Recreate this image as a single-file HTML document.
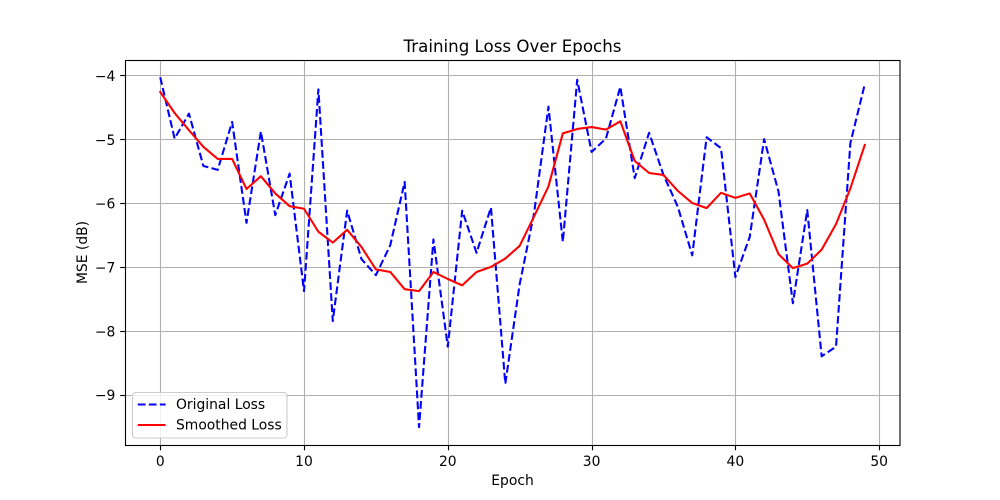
<!DOCTYPE html>
<html lang="en">
<head>
<meta charset="utf-8">
<title>Training Loss Over Epochs</title>
<style>
html,body{margin:0;padding:0;background:#fff;width:1000px;height:500px;overflow:hidden}
svg{display:block}
text{font-family:"DejaVu Sans",sans-serif;fill:#000}
</style>
</head>
<body>
<svg id="chart" width="1000" height="500" viewBox="0 0 1000 500" xmlns="http://www.w3.org/2000/svg">
  <rect x="0" y="0" width="1000" height="500" fill="#fff"/>
  <rect x="125" y="60" width="775" height="385" fill="#fff"/>
  <g id="grid"></g>
  <g id="series"></g>
  <g id="ticks"></g>
  <rect x="125.5" y="60.5" width="774.5" height="385" fill="none" stroke="#000" stroke-width="1.11"/>
  <text x="512.5" y="52" font-size="16.67" text-anchor="middle">Training Loss Over Epochs</text>
  <text x="512.5" y="485" font-size="13.89" text-anchor="middle">Epoch</text>
  <text transform="translate(87 252.5) rotate(-90)" font-size="13.89" text-anchor="middle">MSE (dB)</text>
  <g>
    <rect x="132.5" y="392.5" width="154.5" height="45.5" rx="3" ry="3" fill="#fff" fill-opacity="0.8" stroke="#ccc" stroke-width="1.11"/>
    <line x1="137.8" y1="404.5" x2="165.6" y2="404.5" stroke="#00f" stroke-width="2.08" stroke-dasharray="7.7 3.33"/>
    <text x="176" y="409" font-size="13.89">Original Loss</text>
    <line x1="137.8" y1="425" x2="165.6" y2="425" stroke="#f00" stroke-width="2.08"/>
    <text x="176" y="429.5" font-size="13.89">Smoothed Loss</text>
  </g>
</svg>
<script>
const originalLoss = [-4.02,-4.98,-4.59,-5.41,-5.47,-4.72,-6.30,-4.87,-6.18,-5.53,
  -7.37,-4.21,-7.84,-6.11,-6.87,-7.12,-6.65,-5.66,-9.50,-6.56,
  -8.24,-6.11,-6.77,-6.06,-8.82,-7.26,-6.15,-4.48,-6.60,-4.06,
  -5.19,-4.98,-4.17,-5.60,-4.89,-5.55,-6.05,-6.81,-4.96,-5.13,
  -7.15,-6.52,-4.99,-5.81,-7.56,-6.10,-8.39,-8.24,-5.05,-4.13];
const smoothedLoss = [-4.25,-4.58,-4.85,-5.11,-5.30,-5.30,-5.77,-5.57,-5.84,-6.04,
  -6.08,-6.44,-6.61,-6.41,-6.68,-7.03,-7.07,-7.34,-7.37,-7.07,
  -7.18,-7.28,-7.07,-6.99,-6.86,-6.66,-6.20,-5.73,-4.90,-4.83,
  -4.80,-4.84,-4.71,-5.33,-5.52,-5.55,-5.80,-5.99,-6.07,-5.83,
  -5.91,-5.84,-6.25,-6.79,-7.01,-6.94,-6.72,-6.32,-5.76,-5.08];
const xTickValues = [0,10,20,30,40,50];
const yTickValues = [-4,-5,-6,-7,-8,-9];

const NS = 'http://www.w3.org/2000/svg';
const plot = {left:125, right:900, top:60, bottom:445};
const xDomain = [-2.45, 51.45];
const yDomain = [-9.78, -3.75];
const xScale = v => plot.left + (v - xDomain[0]) / (xDomain[1] - xDomain[0]) * (plot.right - plot.left);
const yScale = v => plot.top + (yDomain[1] - v) / (yDomain[1] - yDomain[0]) * (plot.bottom - plot.top);
const snapX = p => Math.floor(p + 0.5) + 0.5;
const snapY = p => Math.round(p - 0.5) + 0.5;

function make(tag, attrs, parent) {
  const el = document.createElementNS(NS, tag);
  for (const k in attrs) el.setAttribute(k, attrs[k]);
  parent.appendChild(el);
  return el;
}
const gridG = document.getElementById('grid');
const ticksG = document.getElementById('ticks');
const seriesG = document.getElementById('series');

xTickValues.forEach(v => {
  const x = snapX(xScale(v));
  const g = make('line', {x1:x, y1:plot.top, x2:x, y2:plot.bottom, stroke:'#b0b0b0', 'stroke-width':1.11}, gridG);
  
  
  const t = make('line', {x1:x, y1:plot.bottom, x2:x, y2:plot.bottom + 5.3, stroke:'#000', 'stroke-width':1.11}, ticksG);
  
  
  const l = make('text', {x:xScale(v), y:466, 'font-size':13.89, 'text-anchor':'middle'}, ticksG);
  
  
  l.textContent = String(v);
});
yTickValues.forEach(v => {
  const y = snapY(yScale(v));
  const g = make('line', {x1:plot.left, y1:y, x2:plot.right, y2:y, stroke:'#b0b0b0', 'stroke-width':1.11}, gridG);
  
  
  const t = make('line', {x1:plot.left - 4.86, y1:y, x2:plot.left, y2:y, stroke:'#000', 'stroke-width':1.11}, ticksG);
  
  
  const l = make('text', {x:plot.left - 9.7, y:yScale(v) + 5, 'font-size':13.89, 'text-anchor':'end'}, ticksG);
  
  
  l.textContent = '\u2212' + Math.abs(v);
});

const pts = arr => arr.map((v, i) => xScale(i).toFixed(2) + ',' + yScale(v).toFixed(2)).join(' ');
const origLine = make('polyline', {points:pts(originalLoss), fill:'none', stroke:'#00f', 'stroke-width':2.08, 'stroke-dasharray':'7.7 3.33', 'stroke-linejoin':'round'}, seriesG);


const smoothLine = make('polyline', {points:pts(smoothedLoss), fill:'none', stroke:'#f00', 'stroke-width':2.08, 'stroke-linejoin':'round', 'stroke-linecap':'square'}, seriesG);


</script>
</body>
</html>
